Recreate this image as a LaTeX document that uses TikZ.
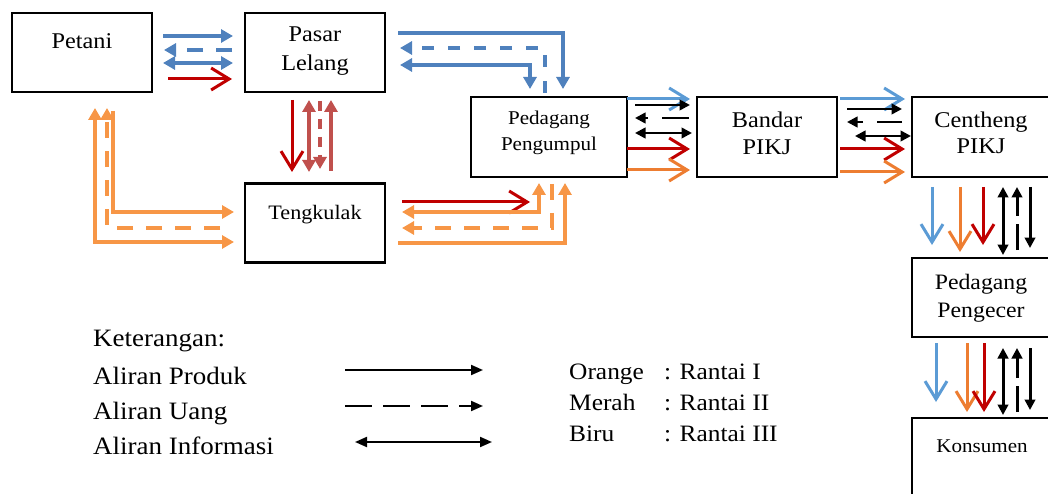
\documentclass[tikz,border=0pt]{standalone}
\usepackage{fontspec}
\setmainfont{Liberation Serif}[FakeStretch=1.08]
\usetikzlibrary{arrows.meta}
\definecolor{bl}{HTML}{4F81BD}
\definecolor{lbl}{HTML}{5B9BD5}
\definecolor{dred}{HTML}{C00000}
\definecolor{ired}{HTML}{C0504D}
\definecolor{lor}{HTML}{F79646}
\definecolor{dor}{HTML}{ED7D31}
\begin{document}
\begin{tikzpicture}[x=1pt,y=-1pt,
  box/.style={draw=black,line width=2.5pt,minimum width=140pt,minimum height=79pt,inner sep=0pt},
  txt/.style={anchor=base,inner sep=0pt,font=\fontsize{22.5}{27}\selectfont},
  stxt/.style={anchor=base,inner sep=0pt,font=\fontsize{19.5}{24}\selectfont},
  ltxt/.style={anchor=base west,inner sep=0pt,font=\fontsize{25}{30}\selectfont},
  rtxt/.style={anchor=base west,inner sep=0pt,font=\fontsize{23.5}{26}\selectfont},
  tri/.tip={Triangle[length=12pt,width=13pt]},
  btri/.tip={Triangle[length=10.5pt,width=10.5pt]},
  barb/.tip={Straight Barb[length=18pt,width=22pt]},
  sol/.style={line width=3.5pt,-tri},
  dbl/.style={line width=3.5pt,tri-tri},
  dsh/.style={line width=3.5pt,dash pattern=on 16pt off 13pt,-tri},
  chev/.style={line width=3pt,-barb},
  bsol/.style={black,line width=2.5pt,-btri},
  bdbl/.style={black,line width=2.5pt,btri-btri},
  bdsh/.style={black,line width=2.5pt,-btri},
]
\useasboundingbox (0,0) rectangle (1048,494);
\clip (0,0) rectangle (1048,494);

% boxes
\node[box] (petani) at (82,52.5) {};
\node[box] (pasar) at (315,52.5) {};
\node[box] (tengkulak) at (315,223) {};
\node[box,minimum width=156pt,minimum height=80pt] (pengumpul) at (549,137) {};
\node[box,minimum height=80pt] (bandar) at (767,137) {};
\node[box,minimum width=160pt,minimum height=80pt] (centheng) at (992,137) {};
\node[box,minimum width=160pt] (pengecer) at (992,297.5) {};
\node[box,minimum width=160pt,minimum height=90pt] (konsumen) at (992,463) {};

% box texts
\node[txt] (tpetani) at (82,49) {Petani};
\node[txt] (tpasar) at (315,42) {Pasar};
\node[txt] (tlelang) at (315,71) {Lelang};
\node[stxt,font=\fontsize{20.5}{24}\selectfont] (ttengkulak) at (315,219) {Tengkulak};
\node[stxt] (tpedagang) at (549,125) {Pedagang};
\node[stxt] (tpengumpul) at (549,151) {Pengumpul};
\node[txt] (tbandar) at (767,128) {Bandar};
\node[txt] (tpikj) at (767,155) {PIKJ};
\node[txt] (tcentheng) at (981,128) {Centheng};
\node[txt] (tpikjb) at (981,154) {PIKJ};
\node[txt,font=\fontsize{22}{27}\selectfont] (tpedagangb) at (981,289) {Pedagang};
\node[txt,font=\fontsize{22}{27}\selectfont] (tpengecer) at (981,317) {Pengecer};
\node[stxt] (tkonsumen) at (982,452) {Konsumen};

% Petani - Pasar Lelang
\draw[sol,bl] (163,36) -- (233,36);
\draw[dsh,bl] (232,50) -- (164,50);
\draw[dbl,bl] (163,63) -- (233,63);
\draw[chev,dred] (168,79) -- (232,79);

% Pasar Lelang - Tengkulak
\draw[chev,dred] (292,100) -- (292,172);
\draw[dbl,ired] (309,100) -- (309,172);
\draw[dsh,ired,dash pattern=on 10pt off 8pt] (320,101) -- (320,169);
\draw[sol,ired] (331,171) -- (331,100);

% Pasar Lelang - Pedagang Pengumpul
\draw[sol,bl] (398,33) -| (563,89);
\draw[dsh,bl,dash pattern=on 12pt off 14pt] (545,93) |- (400,48);
\draw[dbl,bl] (400,65) -| (530,89);

% Petani - Tengkulak
\draw[dbl,lor] (95,108) |- (234,242);
\draw[dsh,lor] (220,228) -| (107,108);
\draw[sol,lor] (113,111) |- (234,212);

% Tengkulak - Pedagang Pengumpul
\draw[chev,dred] (402,202) -- (530,202);
\draw[dbl,lor] (402,212) -| (539,183);
\draw[dsh,lor] (552,184) |- (402,228);
\draw[sol,lor] (398,243) -| (565,183);

% Pedagang Pengumpul - Bandar
\draw[chev,lbl] (627,99) -- (690,99);
\draw[bsol] (635,105) -- (690,105);
\draw[bdsh,dash pattern=on 27pt off 14pt] (689,118) -- (635,118);
\draw[bdbl] (635,133) -- (692,133);
\draw[chev,dred] (627,149) -- (690,149);
\draw[chev,dor] (627,170) -- (690,170);

% Bandar - Centheng
\draw[chev,lbl] (840,99) -- (905,99);
\draw[bsol] (847,109) -- (902,109);
\draw[bdsh,dash pattern=on 25pt off 14pt] (902,122) -- (847,122);
\draw[bdbl] (855,136) -- (911,136);
\draw[chev,dred] (840,149) -- (905,149);
\draw[chev,dor] (840,172) -- (905,172);

% Centheng - Pengecer
\draw[chev,lbl] (932,187) -- (932,245);
\draw[chev,dor] (960,187) -- (960,252);
\draw[chev,dred] (983,187) -- (983,245);
\draw[bdbl,line width=3pt] (1003,187) -- (1003,255);
\draw[bdsh,line width=3pt,dash pattern=on 26pt off 8pt] (1017,250) -- (1017,187);
\draw[bsol,line width=3pt] (1030,187) -- (1030,248);

% Pengecer - Konsumen
\draw[chev,lbl] (936,343) -- (936,402);
\draw[chev,dor] (967,343) -- (967,412);
\draw[chev,dred] (984,343) -- (984,412);
\draw[bdbl,line width=3pt] (1003,348) -- (1003,415);
\draw[bdsh,line width=3pt,dash pattern=on 26pt off 8pt] (1017,412) -- (1017,348);
\draw[bsol,line width=3pt] (1030,348) -- (1030,410);

% legend
\node[ltxt] (ket) at (93,346) {Keterangan:};
\node[ltxt] (lprod) at (93,384) {Aliran Produk};
\node[ltxt] (luang) at (93,419) {Aliran Uang};
\node[ltxt] (linfo) at (93,454) {Aliran Informasi};
\coordinate (p1) at (345,370); \coordinate (p2) at (483,370);
\coordinate (u1) at (345,406); \coordinate (u2) at (483,406);
\coordinate (i1) at (355,442); \coordinate (i2) at (492,442);
\draw[bsol,line width=2pt,-{Triangle[length=12pt,width=10pt]}] (p1) -- (p2);
\draw[bsol,line width=2pt,dash pattern=on 27pt off 11pt,-{Triangle[length=12pt,width=10pt]}] (u1) -- (u2);
\draw[bsol,line width=2pt,{Triangle[length=12pt,width=10pt]}-{Triangle[length=12pt,width=10pt]}] (i1) -- (i2);

\node[rtxt] (or) at (569,379) {Orange};
\node[rtxt] (me) at (569,410) {Merah};
\node[rtxt] (bi) at (569,441) {Biru};
\node[rtxt] (r1) at (664,379) {: Rantai I};
\node[rtxt] (r2) at (664,410) {: Rantai II};
\node[rtxt] (r3) at (664,441) {: Rantai III};
\end{tikzpicture}
\end{document}
